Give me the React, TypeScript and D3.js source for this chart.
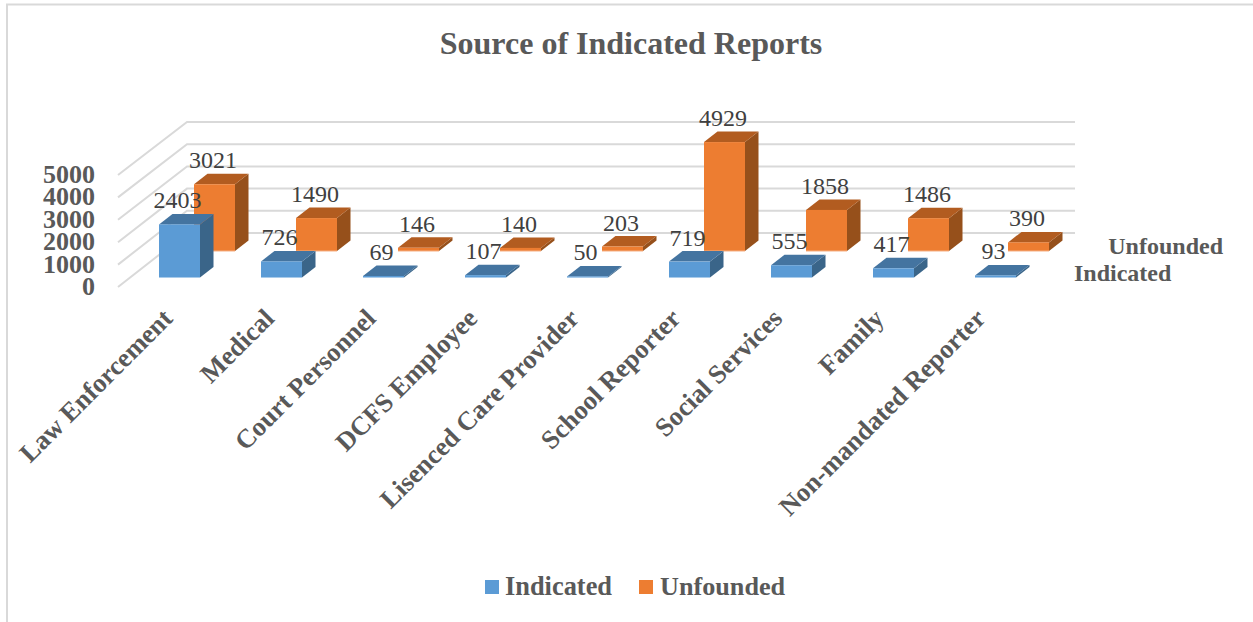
import React from "react";
import * as d3 from "d3";

const title = "Source of Indicated Reports";
const categories = ["Law Enforcement", "Medical", "Court Personnel", "DCFS Employee", "Lisenced Care Provider", "School Reporter", "Social Services", "Family", "Non-mandated Reporter"];
const indicated = [2403, 726, 69, 107, 50, 719, 555, 417, 93];
const unfounded = [3021, 1490, 146, 140, 203, 4929, 1858, 1486, 390];
const ticks = [0, 1000, 2000, 3000, 4000, 5000];
const seriesNames = ["Indicated", "Unfounded"];

const SERIF = "'Liberation Serif', serif";
const GREY = "#595959";
const GRID = "#d9d9d9";

const W = 1253, H = 622;
const x = d3.scaleLinear().domain([0, 8]).range([159, 975]);
const xOrange = d3.scaleLinear().domain([0, 7, 8]).range([194, 908, 1008]);
const xLabel = d3.scaleLinear().domain([0, 8]).range([174, 987]);
const hScale = d3.scaleLinear().domain([0, 5000]).range([0, 110.5]);
const frontY = d3.scaleLinear().domain([0, 5000]).range([287, 175]);
const backY = d3.scaleLinear().domain([0, 5000]).range([233, 122]);
const bw = 41, dx = 13.5, dy = -10.5;

type Pal = { front: string; top: string; side: string; edge: string };
const BLUE: Pal = { front: "#5b9bd5", top: "#4474a0", side: "#3a6589", edge: "#a9cbea" };
const ORANGE: Pal = { front: "#ed7d31", top: "#b25c20", side: "#96501b", edge: "#f5b084" };

function Bar({ x0, base, v, pal }: { x0: number; base: number; v: number; pal: Pal }) {
  const h = hScale(v);
  const t = base - h;
  const r = x0 + bw;
  const pts = (a: number[][]) => a.map((p) => p.join(",")).join(" ");
  return (
    <g>
      <polygon points={pts([[r, t], [r + dx, t + dy], [r + dx, base + dy], [r, base]])} fill={pal.side} />
      <polygon points={pts([[x0, t], [x0 + dx, t + dy], [r + dx, t + dy], [r, t]])} fill={pal.top} />
      <rect x={x0} y={t} width={bw} height={h} fill={pal.front} />
      <line x1={x0} x2={r} y1={base} y2={base} stroke={pal.edge} strokeWidth={1} />
    </g>
  );
}

export default function App() {
  return (
    <svg width={W} height={H} style={{ position: "absolute", left: 0, top: 0, background: "#fff" }} fontFamily={SERIF}>
      <path d={`M1253,4.5H7V622`} fill="none" stroke={GRID} strokeWidth={2} />
      <text x={631} y={54} textAnchor="middle" fontSize={32} fontWeight="bold" fill={GREY}>{title}</text>

      {ticks.map((t) => (
        <g key={t}>
          <path d={`M118,${frontY(t)}L187,${backY(t)}H1075`} fill="none" stroke={GRID} strokeWidth={2} />
          <text x={95} y={frontY(t) + 8} textAnchor="end" fontSize={26} fontWeight="bold" fill={GREY}>{t}</text>
        </g>
      ))}

      {unfounded.map((v, i) => <Bar key={i} x0={xOrange(i)} base={251} v={v} pal={ORANGE} />)}
      {indicated.map((v, i) => <Bar key={i} x0={x(i)} base={277.5} v={v} pal={BLUE} />)}

      {unfounded.map((v, i) => (
        <text key={i} x={xOrange(i) + bw / 2 - 1.5} y={251 - hScale(v) - 16} textAnchor="middle" fontSize={24} fill="#404040">{v}</text>
      ))}
      {indicated.map((v, i) => (
        <text key={i} x={x(i) + bw / 2 - 2} y={277.5 - hScale(v) - 16} textAnchor="middle" fontSize={24} fill="#404040">{v}</text>
      ))}

      {categories.map((c, i) => (
        <text key={c} transform={`translate(${xLabel(i)},320) rotate(-45)`} textAnchor="end" fontSize={26.5} fontWeight="bold" fill={GREY}>{c}</text>
      ))}

      <text x={1223} y={254} textAnchor="end" fontSize={24} fontWeight="bold" fill={GREY}>{seriesNames[1]}</text>
      <text x={1074} y={281} fontSize={24} fontWeight="bold" fill={GREY}>{seriesNames[0]}</text>

      <rect x={485} y={580} width={14} height={14} fill={BLUE.front} />
      <text x={505} y={595} fontSize={26.4} fontWeight="bold" fill={GREY}>{seriesNames[0]}</text>
      <rect x={639} y={580} width={14} height={14} fill={ORANGE.front} />
      <text x={660} y={595} fontSize={26.2} fontWeight="bold" fill={GREY}>{seriesNames[1]}</text>
    </svg>
  );
}
